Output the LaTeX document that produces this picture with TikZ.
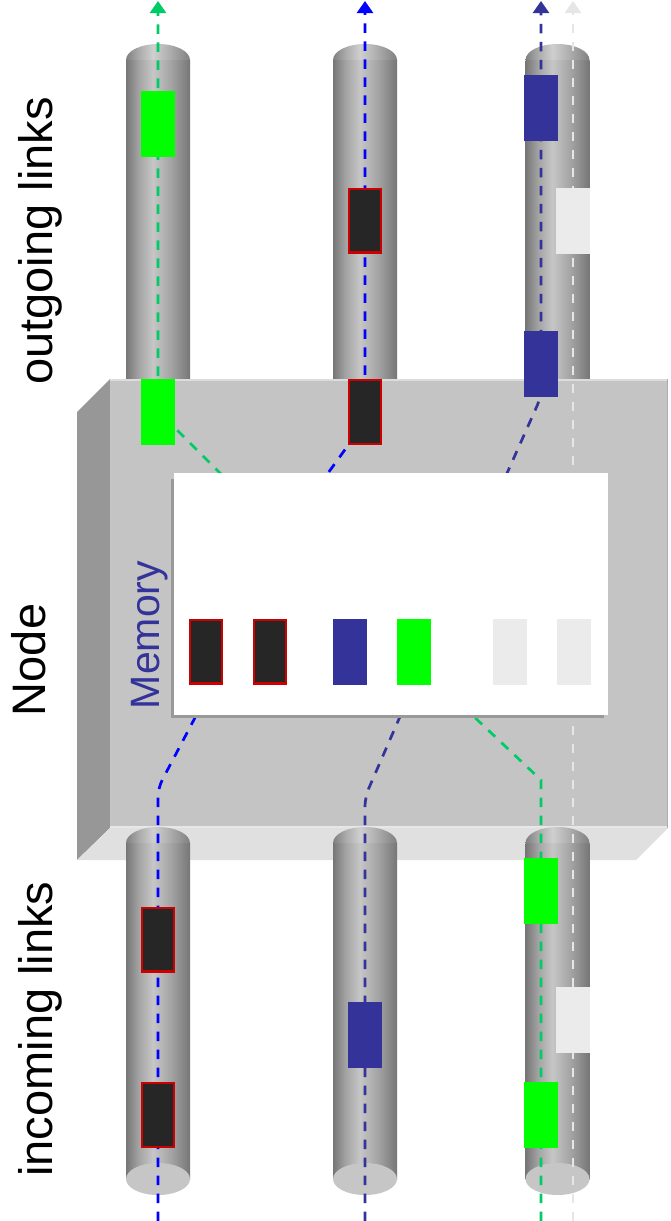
\documentclass[tikz,border=0pt]{standalone}
\usepackage{fontspec}
\setmainfont{Liberation Sans}
\usetikzlibrary{arrows.meta}

\definecolor{boxfront}{HTML}{C4C4C4}
\definecolor{boxside}{HTML}{979797}
\definecolor{boxbottom}{HTML}{E0E0E0}
\definecolor{boxhigh}{HTML}{DCDCDC}
\definecolor{boxrim}{HTML}{ADADAD}
\definecolor{memshadow}{HTML}{999999}
\definecolor{pktgreen}{HTML}{00FF00}
\definecolor{pktblue}{HTML}{333399}
\definecolor{pktdark}{HTML}{262626}
\definecolor{pktgray}{HTML}{EBEBEB}
\definecolor{pktred}{HTML}{CC0000}
\definecolor{flowgreen}{HTML}{00CC66}
\definecolor{flowblue}{HTML}{0000FF}
\definecolor{flownavy}{HTML}{333399}
\definecolor{flowgray}{HTML}{E6E6E6}
\definecolor{tubeedge}{HTML}{767676}
\definecolor{tubemid}{HTML}{A4A4A4}
\definecolor{tubelight}{HTML}{C6C6C6}
\definecolor{domeedge}{HTML}{808080}
\definecolor{domemid}{HTML}{ABABAB}
\definecolor{domelight}{HTML}{CFCFCF}
\definecolor{capface}{HTML}{C6C6C6}

% cylinder shadings: dark rims, light band left of centre
\pgfdeclarehorizontalshading{tubebody}{100bp}{color(0bp)=(tubeedge); color(25bp)=(tubeedge); color(35bp)=(tubemid); color(46bp)=(tubelight); color(60bp)=(tubemid); color(75bp)=(tubeedge); color(100bp)=(tubeedge)}
\pgfdeclarehorizontalshading{tubedome}{100bp}{color(0bp)=(domeedge); color(25bp)=(domeedge); color(35bp)=(domemid); color(46bp)=(domelight); color(60bp)=(domemid); color(75bp)=(domeedge); color(100bp)=(domeedge)}

% link cylinder: #1 centre x, #2 y of the dome seam, #3 lower end y
\newcommand{\linktube}[3]{%
  \shade[shading=tubebody] (#1-32,#2) rectangle (#1+32,#3);
  \shade[shading=tubedome] (#1-32,#2) arc[start angle=180,end angle=0,x radius=32pt,y radius=16pt] -- cycle;
}

\tikzset{
  pkt/.style={rectangle, minimum width=34pt, minimum height=66pt, inner sep=0pt, outer sep=0pt},
  pktgreenbox/.style={pkt, fill=pktgreen},
  pktbluebox/.style={pkt, fill=pktblue},
  pktgraybox/.style={pkt, fill=pktgray},
  pktdarkbox/.style={pkt, fill=pktdark, draw=pktred, line width=2.4pt, minimum width=31.6pt, minimum height=63.6pt},
  flow/.style={line width=2.7pt, dash pattern=on 9.5pt off 8.5pt, -{Triangle[length=12pt,width=16pt]}},
  lbl/.style={font=\fontsize{47}{56}\selectfont, rotate=90, inner sep=0pt},
  memlbl/.style={font=\fontsize{41}{50}\selectfont, rotate=90, inner sep=0pt, text=pktblue},
}

\begin{document}
\begin{tikzpicture}[x=1pt,y=-1pt]
\useasboundingbox (0,0) rectangle (670,1221);
\fill[white] (0,0) rectangle (670,1221);

% outgoing links (behind the node)
\linktube{158}{60}{390}
\linktube{365}{60}{390}
\linktube{557.5}{60}{390}

% the node as a box
\fill[boxside] (110,379) -- (77,412) -- (77,860) -- (110,828) -- cycle;
\fill[boxbottom] (110,828) -- (668,828) -- (636,860) -- (77,860) -- cycle;
\fill[boxfront] (110,379) rectangle (668,828);
\draw[boxhigh, line width=1.5pt] (110,379.8) -- (668,379.8);
\draw[boxhigh!70!white, line width=1.5pt] (110,827) -- (668,827);
\draw[boxrim, line width=1.2pt] (667.4,379) -- (667.4,828);

% incoming links
\linktube{158}{843}{1179}
\linktube{365}{843}{1179}
\linktube{557.5}{843}{1179}
\fill[capface] (158,1179) ellipse[x radius=32pt, y radius=16pt];
\fill[capface] (365,1179) ellipse[x radius=32pt, y radius=16pt];
\fill[capface] (557.5,1179) ellipse[x radius=32pt, y radius=16pt];

% flow waypoints
\coordinate (gIn) at (541,1221);
\coordinate (gBend) at (541,780);
\coordinate (gMemIn) at (469,712);
\coordinate (gMemOut) at (227,480);
\coordinate (gBendTop) at (158,411);
\coordinate (gOut) at (158,1);

\coordinate (bIn) at (158,1221);
\coordinate (bBend) at (158,788);
\coordinate (bMemIn) at (198,712);
\coordinate (bMemOut) at (323,480);
\coordinate (bBendTop) at (365,422);
\coordinate (bOut) at (365,1);

\coordinate (nIn) at (365,1221);
\coordinate (nBend) at (365,797);
\coordinate (nMemIn) at (402,712);
\coordinate (nMemOut) at (504,480);
\coordinate (nBendTop) at (541,397);
\coordinate (nOut) at (541,1);

\coordinate (wIn) at (573,1221);
\coordinate (wOut) at (573,1);

% flows through the node
\draw[flow, flowgray] (wIn) -- (wOut);
\draw[flow, flowgreen] (gIn) -- (gBend) -- (gMemIn) -- (gMemOut) -- (gBendTop) -- (gOut);
\draw[flow, flowblue, rounded corners=9pt] (bIn) -- (bBend) -- (bMemIn) -- (bMemOut) -- (bBendTop) -- (bOut);
\draw[flow, flownavy, rounded corners=9pt] (nIn) -- (nBend) -- (nMemIn) -- (nMemOut) -- (nBendTop) -- (nOut);

% memory
\fill[memshadow] (171,479) rectangle (604,718);
\fill[white] (174,473) rectangle (608,715);

% packets in memory
\node[pktdarkbox] (m1) at (206,651.5) {};
\node[pktdarkbox] (m2) at (270,651.5) {};
\node[pktbluebox] (m3) at (349.5,651.5) {};
\node[pktgreenbox] (m4) at (414,651.5) {};
\node[pktgraybox] (m5) at (509.5,651.5) {};
\node[pktgraybox] (m6) at (573.5,651.5) {};

% packets on outgoing links
\node[pktgreenbox] (o1) at (158,124) {};
\node[pktgreenbox] (o2) at (158,412) {};
\node[pktdarkbox] (o3) at (365,220.5) {};
\node[pktdarkbox] (o4) at (365,412) {};
\node[pktbluebox] (o5) at (541,108) {};
\node[pktgraybox] (o6) at (573,220.5) {};
\node[pktbluebox] (o7) at (541,364) {};

% packets on incoming links
\node[pktdarkbox] (i1) at (158,939.5) {};
\node[pktdarkbox] (i2) at (158,1115) {};
\node[pktbluebox] (i3) at (365,1035) {};
\node[pktgreenbox] (i4) at (541,890.5) {};
\node[pktgraybox] (i5) at (573,1019.5) {};
\node[pktgreenbox] (i6) at (541,1114.5) {};

% labels
\node[lbl] (outLbl) at (40,241) {outgoing links};
\node[lbl] (nodeLbl) at (29,660) {Node};
\node[lbl] (inLbl) at (40,1029) {incoming links};
\node[memlbl] (memLbl) at (150,635) {Memory};
\end{tikzpicture}
\end{document}
